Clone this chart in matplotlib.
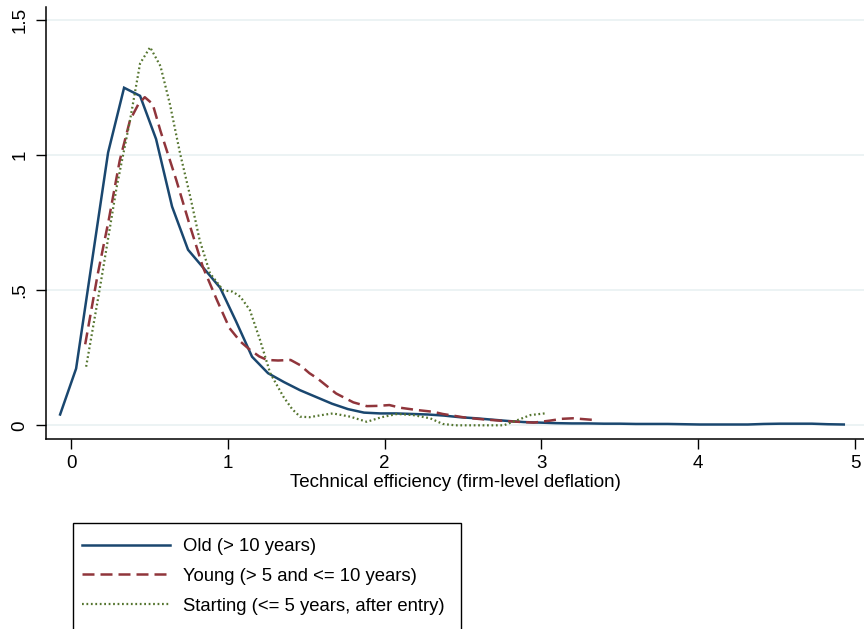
import matplotlib
matplotlib.use("Agg")
import matplotlib.pyplot as plt
from matplotlib.lines import Line2D
from matplotlib.patches import Rectangle

plt.rcParams['font.family'] = ['Liberation Sans', 'DejaVu Sans']

# kernel density estimates
old_x = [-0.070, 0.032, 0.134, 0.236, 0.338, 0.440, 0.542, 0.644, 0.746, 0.848,
         0.950, 1.052, 1.154, 1.256, 1.358, 1.460, 1.562, 1.664, 1.766, 1.868,
         1.970, 2.072, 2.174, 2.276, 2.378, 2.480, 2.582, 2.684, 2.786, 2.888,
         2.990, 3.092, 3.194, 3.296, 3.398, 3.500, 3.602, 3.704, 3.806, 3.908,
         4.010, 4.112, 4.214, 4.316, 4.418, 4.520, 4.622, 4.724, 4.826, 4.928]
old_y = [0.04, 0.21, 0.61, 1.01, 1.25, 1.22, 1.06, 0.81, 0.65, 0.58,
         0.51, 0.385, 0.254, 0.193, 0.16, 0.13, 0.105, 0.08, 0.06, 0.047,
         0.044, 0.044, 0.042, 0.040, 0.036, 0.030, 0.026, 0.021, 0.016, 0.012,
         0.010, 0.008, 0.007, 0.007, 0.006, 0.006, 0.005, 0.005, 0.005, 0.004,
         0.003, 0.003, 0.003, 0.003, 0.005, 0.006, 0.006, 0.006, 0.004, 0.003]

young_x = [0.09, 0.17, 0.24, 0.31, 0.376, 0.43, 0.47, 0.52, 0.57, 0.62, 0.67,
           0.76, 0.84, 0.93, 1.01, 1.08, 1.14, 1.2, 1.25, 1.32, 1.4, 1.46,
           1.52, 1.57, 1.69, 1.8, 1.886, 1.96, 2.03, 2.10, 2.2, 2.31, 2.37,
           2.52, 2.63, 2.74, 2.85, 2.95, 3.05, 3.13, 3.2, 3.33]
young_y = [0.30, 0.56, 0.76, 0.98, 1.13, 1.19, 1.215, 1.19, 1.09, 1.0, 0.91,
           0.735, 0.587, 0.464, 0.36, 0.31, 0.28, 0.255, 0.242, 0.24, 0.242, 0.223,
           0.193, 0.174, 0.118, 0.085, 0.071, 0.072, 0.075, 0.065, 0.057, 0.05, 0.042,
           0.028, 0.022, 0.017, 0.013, 0.01, 0.017, 0.024, 0.026, 0.02]

start_x = [0.096, 0.185, 0.29, 0.376, 0.44, 0.504, 0.57, 0.63, 0.695, 0.76,
           0.82, 0.886, 0.97, 1.03, 1.08, 1.14, 1.205, 1.27, 1.354, 1.41,
           1.46, 1.52, 1.6, 1.67, 1.78, 1.886, 1.98, 2.08, 2.18, 2.29,
           2.37, 2.45, 2.6, 2.76, 2.85, 2.93, 3.02]
start_y = [0.217, 0.513, 0.88, 1.13, 1.34, 1.40, 1.33, 1.19, 1.007, 0.847,
           0.686, 0.563, 0.50, 0.495, 0.476, 0.427, 0.316, 0.193, 0.106, 0.06,
           0.032, 0.03, 0.038, 0.044, 0.032, 0.013, 0.03, 0.042, 0.038, 0.026,
           0.005, 0.0, 0.0, 0.0, 0.02, 0.038, 0.044]

labels = ['Old (> 10 years)', 'Young (> 5 and <= 10 years)',
          'Starting (<= 5 years, after entry)']
xticks = [0, 1, 2, 3, 4, 5]
yticks = [0, 0.5, 1, 1.5]
ytick_labels = ['0', '.5', '1', '1.5']

navy = '#1a476f'
maroon = '#90353b'
green = '#55752f'

W, H = 864, 629
fig = plt.figure(figsize=(W / 100, H / 100), dpi=100)
ax = fig.add_axes([46 / W, 1 - 439 / H, 818 / W, 432 / H])

for y in yticks:
    ax.axhline(y, color='#eaf2f3', lw=1.3, zorder=0)

ax.plot(old_x, old_y, color=navy, lw=1.8, solid_joinstyle='miter')
ax.plot(young_x, young_y, color=maroon, lw=1.8, dashes=(4.8, 2.4))
ax.plot(start_x, start_y, color=green, lw=1.6, linestyle=(0, (0.8, 1.2)))

ax.set_xlim(-0.16, 5.057)
ax.set_ylim(-0.0507, 1.549)
ax.set_xticks(xticks)
ax.set_yticks(yticks)
ax.set_yticklabels(ytick_labels, rotation=90, va='center')
ax.tick_params(axis='both', length=7.2, width=1, labelsize=13.5, colors='black')
ax.tick_params(axis='y', pad=5.5)
ax.tick_params(axis='x', pad=4)
for s in ['top', 'right']:
    ax.spines[s].set_visible(False)
for s in ['left', 'bottom']:
    ax.spines[s].set_linewidth(1.1)
ax.set_xlabel('Technical efficiency (firm-level deflation)', fontsize=13.5, labelpad=2)

# legend box (runs off the bottom of the figure as in the original)
fig.patches.append(Rectangle((72.7 / W, -0.05), (461 - 72.7) / W, 0.05 + 1 - 523 / H,
                             transform=fig.transFigure, fill=False,
                             edgecolor='black', lw=1.0))

handles = [Line2D([], [], color=navy, lw=1.8),
           Line2D([], [], color=maroon, lw=1.8, dashes=(4.8, 2.4)),
           Line2D([], [], color=green, lw=1.6, linestyle=(0, (0.8, 1.2)))]
leg = fig.legend(handles, labels, loc='upper left',
                 bbox_to_anchor=(81.7 / W, 1 - 538 / H), borderaxespad=0,
                 fontsize=13.3, handlelength=4.77, handletextpad=0.7,
                 labelspacing=0.7, borderpad=0, frameon=False)

fig.savefig('out.png', dpi=100)
